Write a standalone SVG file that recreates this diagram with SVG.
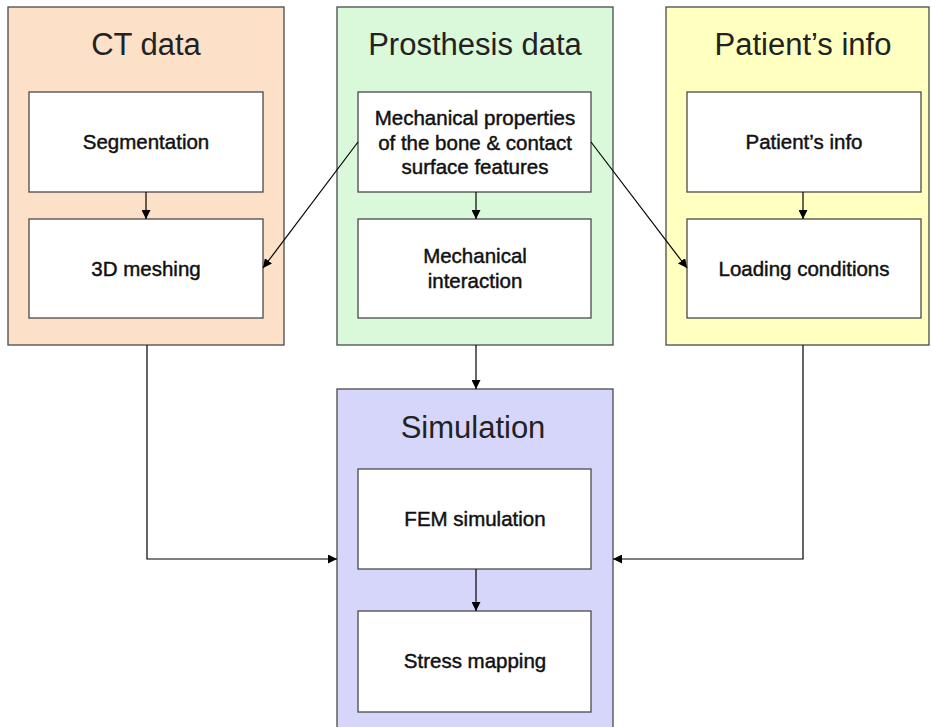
<svg xmlns="http://www.w3.org/2000/svg" width="931" height="727" viewBox="0 0 931 727">
<defs>
<marker id="ah" viewBox="0 0 10 10" refX="10" refY="5" markerWidth="9" markerHeight="9" markerUnits="userSpaceOnUse" orient="auto">
<path d="M0,0 L10,5 L0,10 z" fill="#000"/>
</marker>
<style>
.panel{stroke:#4a4a4a;stroke-width:1.3}
.box{fill:#fff;stroke:#4a4a4a;stroke-width:1.3}
.title{font-family:"Liberation Sans",Arial,sans-serif;font-size:31px;fill:#222;text-anchor:middle}
.lbl{font-family:"Liberation Sans",Arial,sans-serif;font-size:20.5px;fill:#111;stroke:#111;stroke-width:0.45;text-anchor:middle}
.con{fill:none;stroke:#000;stroke-width:1.2;marker-end:url(#ah)}
</style>
</defs>
<rect width="931" height="727" fill="#fff"/>
<g id="ct">
<rect class="panel" x="8" y="7" width="276" height="338" fill="#FCE0C8"/>
<text class="title" x="146" y="55">CT data</text>
<g id="segmentation"><rect class="box" x="29" y="92" width="234" height="100"/><text class="lbl" x="146" y="149">Segmentation</text></g>
<g id="meshing"><rect class="box" x="29" y="219" width="234" height="99"/><text class="lbl" x="146" y="276">3D meshing</text></g>
</g>
<g id="prosthesis">
<rect class="panel" x="337" y="7" width="276" height="338" fill="#DAF9DA"/>
<text class="title" x="475" y="55">Prosthesis data</text>
<g id="mechprops"><rect class="box" x="358" y="92" width="233" height="100"/><text class="lbl" x="475" y="125">Mechanical properties</text><text class="lbl" x="475" y="150">of the bone &amp; contact</text><text class="lbl" x="475" y="174">surface features</text></g>
<g id="interaction"><rect class="box" x="358" y="219" width="233" height="99"/><text class="lbl" x="475" y="263">Mechanical</text><text class="lbl" x="475" y="288">interaction</text></g>
</g>
<g id="patient">
<rect class="panel" x="666" y="7" width="263" height="338" fill="#FFFFC0"/>
<text class="title" x="803" y="55">Patient’s info</text>
<g id="patientinfo"><rect class="box" x="687" y="92" width="234" height="100"/><text class="lbl" x="804" y="149">Patient’s info</text></g>
<g id="loading"><rect class="box" x="687" y="219" width="234" height="99"/><text class="lbl" x="804" y="276">Loading conditions</text></g>
</g>
<g id="simulation">
<rect class="panel" x="337" y="389" width="276" height="345" fill="#D6D6FA"/>
<text class="title" x="473" y="438">Simulation</text>
<g id="fem"><rect class="box" x="358" y="469" width="233" height="100"/><text class="lbl" x="475" y="526">FEM simulation</text></g>
<g id="stress"><rect class="box" x="358" y="611" width="233" height="101"/><text class="lbl" x="475" y="668">Stress mapping</text></g>
</g>
<g id="connectors">
<path class="con" d="M146,192 V219"/>
<path class="con" d="M476,192 V219"/>
<path class="con" d="M803,192 V219"/>
<path class="con" d="M358,142 L263,268"/>
<path class="con" d="M591,142 L687,268"/>
<path class="con" d="M147,345 V559 H337"/>
<path class="con" d="M803,345 V559 H613"/>
<path class="con" d="M476,345 V389"/>
<path class="con" d="M476,569 V611"/>
</g>
</svg>
